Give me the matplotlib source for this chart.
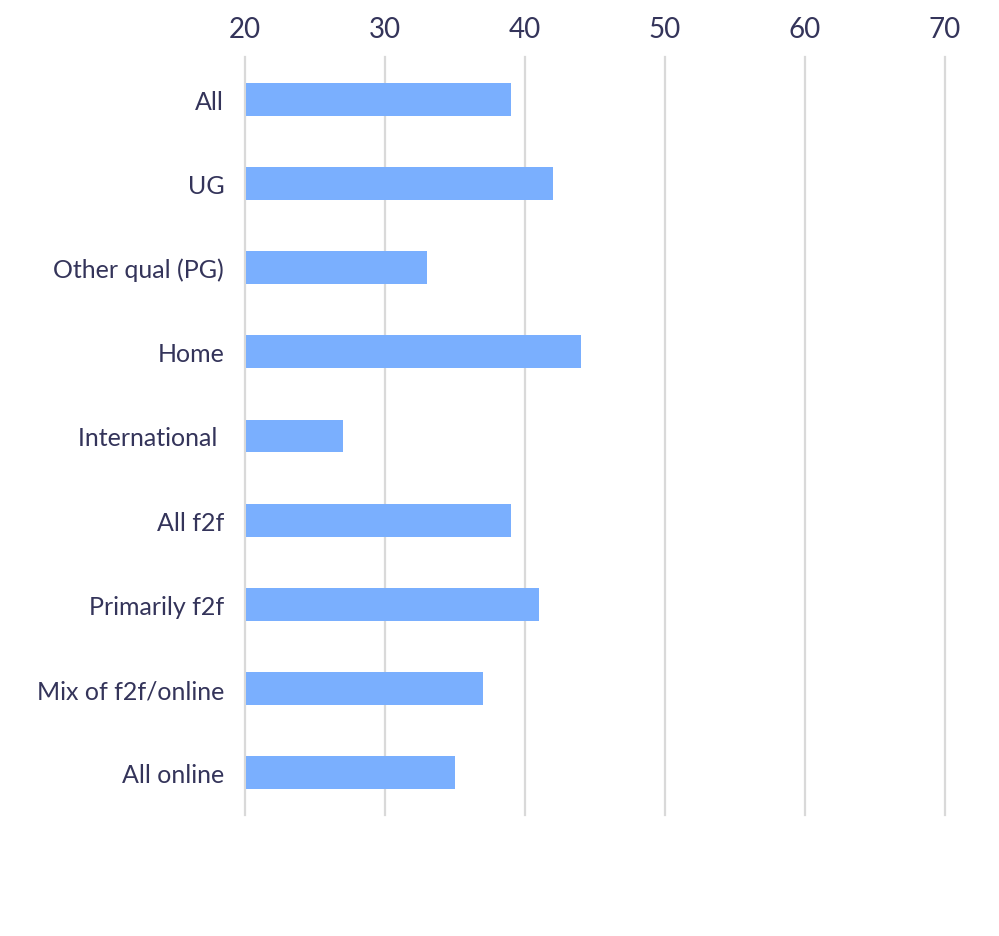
import matplotlib
matplotlib.use("Agg")
import matplotlib.pyplot as plt
import numpy as np

# datos
categorias = ['All', 'UG', 'Other qual (PG)', 'Home', 'International ',
              'All f2f', 'Primarily f2f', 'Mix of f2f/online', 'All online']
valores = [39, 42, 33, 44, 27, 39, 41, 37, 35]
ticks_x = [20, 30, 40, 50, 60, 70]

color_barra = '#7aaffe'
color_texto = '#34345a'
color_grid = '#d9d9d9'

plt.rcParams['font.family'] = ['Lato', 'DejaVu Sans']

fig = plt.figure(figsize=(9.99, 9.37), dpi=100)
ax = fig.add_axes([245/999, 1 - 816/937, 700/999, (816 - 58)/937])

y = np.arange(len(categorias))
base = 20
ax.barh(y, np.array(valores) - base - 0.05, left=base + 0.05, height=0.39,
        color=color_barra, zorder=3)

ax.set_xlim(20, 70)
ax.set_ylim(len(categorias) - 0.5, -0.5)
ax.set_xticks(ticks_x)
ax.set_yticks(y)
ax.set_yticklabels(categorias)
ax.xaxis.tick_top()
ax.tick_params(axis='both', length=0, labelcolor=color_texto)
ax.tick_params(axis='x', pad=11, labelsize=20)
ax.tick_params(axis='y', pad=15, labelsize=18)
ax.grid(axis='x', color=color_grid, linewidth=1.6, zorder=0)
for g in ax.get_xgridlines():
    g.set_clip_on(False)
for s in ax.spines.values():
    s.set_visible(False)

fig.savefig('out.png', dpi=100, facecolor='white')
